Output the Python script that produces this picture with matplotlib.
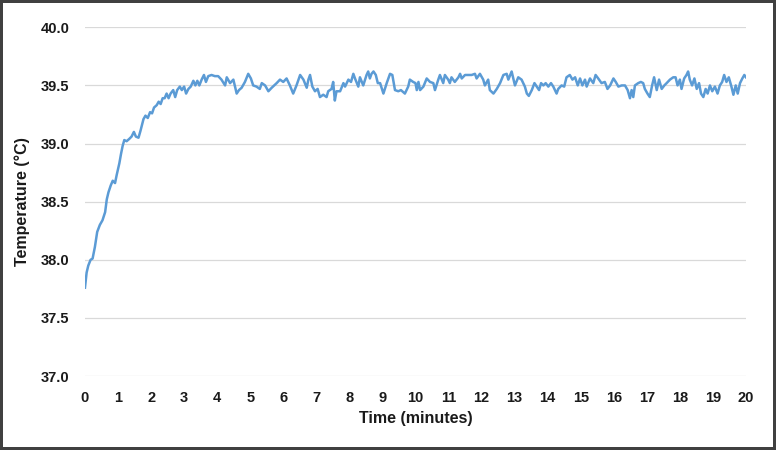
import matplotlib
matplotlib.use("Agg")
import matplotlib.pyplot as plt

# temperature trace
time_min = [
    0.00, 0.05, 0.10, 0.17, 0.23, 0.30, 0.37, 0.45, 0.53, 0.61,
    0.66, 0.71, 0.78, 0.84, 0.91, 0.96, 1.04, 1.09, 1.14, 1.19,
    1.26, 1.34, 1.41, 1.48, 1.54, 1.62, 1.68, 1.77, 1.83, 1.90,
    1.97, 2.03, 2.09, 2.17, 2.23, 2.29, 2.35, 2.41, 2.47, 2.53,
    2.59, 2.67, 2.73, 2.79, 2.87, 2.93, 3.00, 3.06, 3.13, 3.20,
    3.28, 3.34, 3.40, 3.46, 3.53, 3.60, 3.66, 3.73, 3.83, 3.93,
    4.03, 4.13, 4.24, 4.29, 4.39, 4.49, 4.59, 4.66, 4.74, 4.84,
    4.94, 5.02, 5.09, 5.19, 5.29, 5.35, 5.45, 5.55, 5.65, 5.80,
    5.90, 6.00, 6.10, 6.20, 6.30, 6.40, 6.51, 6.61, 6.71, 6.76,
    6.81, 6.88, 6.96, 7.04, 7.11, 7.21, 7.31, 7.36, 7.46, 7.51,
    7.56, 7.61, 7.72, 7.82, 7.87, 7.97, 8.05, 8.12, 8.17, 8.27,
    8.32, 8.42, 8.52, 8.57, 8.62, 8.67, 8.73, 8.80, 8.86, 8.93,
    9.03, 9.13, 9.23, 9.30, 9.38, 9.48, 9.56, 9.68, 9.78, 9.83,
    9.93, 10.00, 10.04, 10.09, 10.14, 10.24, 10.34, 10.44, 10.54, 10.59,
    10.69, 10.74, 10.84, 10.89, 10.99, 11.04, 11.09, 11.19, 11.30, 11.35,
    11.40, 11.50, 11.60, 11.70, 11.80, 11.85, 11.95, 12.05, 12.10, 12.20,
    12.25, 12.36, 12.46, 12.56, 12.66, 12.76, 12.81, 12.91, 13.01, 13.11,
    13.21, 13.31, 13.37, 13.43, 13.52, 13.60, 13.67, 13.74, 13.80, 13.87,
    13.94, 14.02, 14.10, 14.17, 14.27, 14.32, 14.42, 14.50, 14.57, 14.67,
    14.75, 14.83, 14.91, 14.98, 15.05, 15.13, 15.18, 15.28, 15.38, 15.45,
    15.53, 15.63, 15.73, 15.81, 15.89, 15.99, 16.06, 16.14, 16.24, 16.34,
    16.42, 16.49, 16.54, 16.59, 16.64, 16.74, 16.82, 16.89, 16.94, 17.02,
    17.09, 17.16, 17.22, 17.30, 17.37, 17.45, 17.53, 17.60, 17.70, 17.80,
    17.87, 17.93, 18.00, 18.05, 18.13, 18.20, 18.25, 18.30, 18.37, 18.44,
    18.51, 18.58, 18.64, 18.71, 18.78, 18.84, 18.91, 18.98, 19.06, 19.14,
    19.21, 19.28, 19.34, 19.41, 19.48, 19.56, 19.62, 19.69, 19.75, 19.82,
    19.89, 19.95, 20.00,
]
temp_c = [
    37.76, 37.89, 37.95, 38.00, 38.01, 38.11, 38.24, 38.30, 38.34, 38.41,
    38.52, 38.58, 38.64, 38.68, 38.66, 38.73, 38.83, 38.91, 38.98, 39.03,
    39.02, 39.04, 39.06, 39.10, 39.06, 39.05, 39.11, 39.21, 39.24, 39.22,
    39.27, 39.26, 39.31, 39.33, 39.36, 39.34, 39.39, 39.39, 39.43, 39.39,
    39.43, 39.46, 39.40, 39.46, 39.49, 39.46, 39.49, 39.43, 39.47, 39.49,
    39.54, 39.50, 39.54, 39.50, 39.55, 39.59, 39.53, 39.58, 39.59, 39.58,
    39.58, 39.55, 39.50, 39.57, 39.52, 39.55, 39.43, 39.46, 39.48, 39.53,
    39.60, 39.56, 39.50, 39.49, 39.47, 39.52, 39.50, 39.45, 39.48, 39.52,
    39.55, 39.53, 39.56, 39.50, 39.43, 39.50, 39.59, 39.55, 39.48, 39.55,
    39.59, 39.49, 39.45, 39.47, 39.40, 39.42, 39.40, 39.45, 39.47, 39.53,
    39.37, 39.45, 39.45, 39.52, 39.49, 39.55, 39.53, 39.60, 39.56, 39.49,
    39.57, 39.50, 39.59, 39.62, 39.56, 39.60, 39.62, 39.59, 39.52, 39.52,
    39.43, 39.52, 39.60, 39.59, 39.46, 39.45, 39.46, 39.43, 39.49, 39.55,
    39.53, 39.52, 39.46, 39.53, 39.46, 39.49, 39.56, 39.53, 39.52, 39.46,
    39.55, 39.59, 39.52, 39.59, 39.55, 39.52, 39.57, 39.53, 39.57, 39.60,
    39.56, 39.59, 39.59, 39.59, 39.60, 39.56, 39.60, 39.55, 39.50, 39.55,
    39.46, 39.43, 39.47, 39.52, 39.59, 39.60, 39.55, 39.62, 39.50, 39.57,
    39.55, 39.49, 39.43, 39.41, 39.46, 39.52, 39.49, 39.46, 39.52, 39.50,
    39.52, 39.49, 39.52, 39.49, 39.43, 39.47, 39.50, 39.49, 39.57, 39.59,
    39.55, 39.57, 39.50, 39.56, 39.50, 39.55, 39.49, 39.56, 39.52, 39.59,
    39.56, 39.52, 39.53, 39.47, 39.50, 39.56, 39.53, 39.49, 39.50, 39.50,
    39.46, 39.39, 39.46, 39.40, 39.50, 39.52, 39.53, 39.52, 39.47, 39.43,
    39.40, 39.50, 39.57, 39.46, 39.55, 39.47, 39.50, 39.52, 39.55, 39.57,
    39.57, 39.50, 39.55, 39.47, 39.56, 39.59, 39.62, 39.55, 39.50, 39.56,
    39.47, 39.52, 39.43, 39.40, 39.47, 39.43, 39.50, 39.45, 39.49, 39.43,
    39.50, 39.53, 39.59, 39.53, 39.57, 39.49, 39.42, 39.50, 39.43, 39.52,
    39.56, 39.59, 39.57,
]
x_ticks = list(range(0, 21))
y_ticks = [37.0, 37.5, 38.0, 38.5, 39.0, 39.5, 40.0]

plt.rcParams['font.family'] = ['Liberation Sans', 'DejaVu Sans']

fig = plt.figure(figsize=(7.76, 4.5), dpi=100)
fig.patch.set_facecolor('white')
fig.patch.set_edgecolor('#404040')
fig.patch.set_linewidth(3)

ax = fig.add_axes([0.1095, 0.1644, 0.8518, 0.7749])
ax.plot(time_min, temp_c, color='#5B9BD5', linewidth=1.8)

ax.set_xlim(0, 20)
ax.set_ylim(37.0, 40.0)
ax.set_xticks(x_ticks)
ax.set_yticks(y_ticks)
ax.set_yticklabels(['%.1f' % v for v in y_ticks])
ax.grid(axis='y', color='#D9D9D9', linewidth=0.9)
ax.set_axisbelow(True)
for s in ax.spines.values():
    s.set_visible(False)

ax.tick_params(axis='both', length=0, labelsize=10.5, colors='#1a1a1a')
ax.tick_params(axis='x', pad=11)
ax.tick_params(axis='y', pad=11)
for lab in ax.get_xticklabels() + ax.get_yticklabels():
    lab.set_fontweight('bold')

ax.set_xlabel('Time (minutes)', fontsize=11.5, fontweight='bold', color='#1a1a1a', labelpad=4)
ax.set_ylabel('Temperature (°C)', fontsize=11.5, fontweight='bold', color='#1a1a1a', labelpad=8)

fig.savefig('out.png', dpi=100)
